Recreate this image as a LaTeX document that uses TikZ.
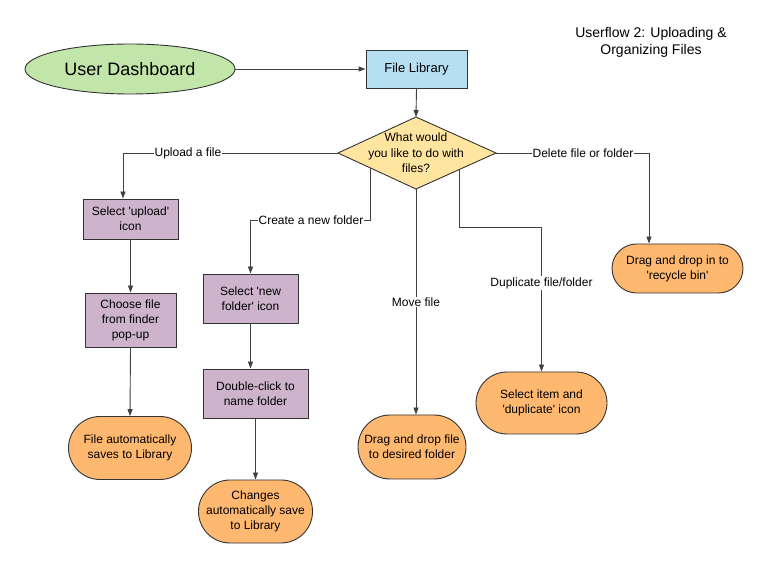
\documentclass[tikz,border=0pt]{standalone}
\usepackage{fontspec}
\setmainfont{Liberation Sans}
\usetikzlibrary{shapes.geometric,shapes.misc,arrows.meta}
\definecolor{cgreen}{HTML}{C2E5A9}
\definecolor{cblue}{HTML}{B6DFF2}
\definecolor{cyellow}{HTML}{FFE5A0}
\definecolor{cpurple}{HTML}{CDB3CC}
\definecolor{corange}{HTML}{FFB870}
\newcommand{\sq}{\textquotesingle}
\begin{document}
\begin{tikzpicture}[x=1pt,y=-1pt,
  base/.style={draw=black!80, line width=0.9pt, align=center, inner sep=0pt,
    font=\fontsize{12}{15}\selectfont},
  proc/.style={base, rectangle, fill=cpurple},
  term/.style={base, rounded rectangle, fill=corange},
  conn/.style={draw=black!75, line width=0.9pt, -{Triangle[length=7pt,width=5pt]}},
  lbl/.style={fill=white, inner sep=1pt, font=\fontsize{12}{15}\selectfont}]
\useasboundingbox[fill=white] (0,0) rectangle (780,585);

% title
\node[align=center, font=\fontsize{14}{17}\selectfont] (title) at (651,42)
  {Userflow 2: Uploading \&\\Organizing Files};

% top
\node[base, ellipse, fill=cgreen, minimum width=210pt, minimum height=50pt,
  font=\fontsize{18}{22}\selectfont] (dash) at (130,69) {User Dashboard};
\node[base, rectangle, fill=cblue, minimum width=101pt, minimum height=38pt,
  font=\fontsize{13}{16}\selectfont] (lib) at (416.5,69) {File Library};

% decision diamond
\coordinate (dt) at (416,117);
\coordinate (dl) at (338,153);
\coordinate (dr) at (496,153);
\coordinate (db) at (416,189);
\draw[draw=black!80, line width=0.9pt, fill=cyellow] (dt) -- (dr) -- (db) -- (dl) -- cycle;
\node[align=center, font=\fontsize{12}{15.5}\selectfont] (q) at (416,153)
  {What would\\you like to do with\\files?};

% upload branch
\node[proc, minimum width=95pt, minimum height=40pt] (up1) at (130.5,219) {Select \sq upload\sq\\icon};
\node[proc, minimum width=91pt, minimum height=54pt] (up2) at (130.5,320) {Choose file\\from finder\\pop-up};
\node[term, minimum width=123pt, minimum height=63pt] (up3) at (130,448) {File automatically\\saves to Library};

% new folder branch
\node[proc, minimum width=95pt, minimum height=49pt] (nf1) at (250.5,298.5) {Select \sq new\\folder\sq{} icon};
\node[proc, minimum width=105pt, minimum height=49pt] (nf2) at (255.5,393.5) {Double-click to\\name folder};
\node[term, minimum width=107pt, minimum height=63pt] (nf3) at (255.5,511.5) {Changes\\automatically save\\to Library};

% move
\node[term, minimum width=108pt, minimum height=64pt] (mv) at (412,447) {Drag and drop file\\to desired folder};

% duplicate
\node[term, minimum width=131pt, minimum height=62pt] (dup) at (541.5,403) {Select item and\\\sq duplicate\sq{} icon};

% delete
\node[term, minimum width=131pt, minimum height=49pt] (del) at (677.5,268.5) {Drag and drop in to\\\sq recycle bin\sq};

% connectors
\draw[conn] (dash.east) -- (lib.west);
\draw[conn] (lib.south) -- (dt);

\coordinate (uc) at (123,153);
\draw[conn] (dl) -- (uc) -- (uc |- up1.north);
\node[lbl] (lu) at (188,153) {Upload a file};
\draw[conn] (up1.south) -- (up2.north);
\draw[conn] (up2.south) -- (up3.north);

\coordinate (cf) at (370,167.8);
\coordinate (cf2) at (370,220);
\coordinate (cf3) at (250.5,220);
\draw[conn] (cf) -- (cf2) -- (cf3) -- (nf1.north);
\node[lbl] (lc) at (311,220) {Create a new folder};
\draw[conn] (nf1.south) -- (nf1.south |- nf2.north);
\draw[conn] (nf2.south) -- (nf3.north);

\draw[conn] (db) -- (db |- mv.north);
\node[lbl] (lm) at (416,302) {Move file};

\coordinate (dc) at (459,169.6);
\coordinate (dc2) at (459,227);
\coordinate (dc3) at (541.5,227);
\draw[conn] (dc) -- (dc2) -- (dc3) -- (dup.north);
\node[lbl] (ld) at (541.5,283) {Duplicate file/folder};

\coordinate (rc) at (649,153);
\draw[conn] (dr) -- (rc) -- (rc |- del.north);
\node[lbl] (lr) at (583,153) {Delete file or folder};
\end{tikzpicture}
\end{document}
